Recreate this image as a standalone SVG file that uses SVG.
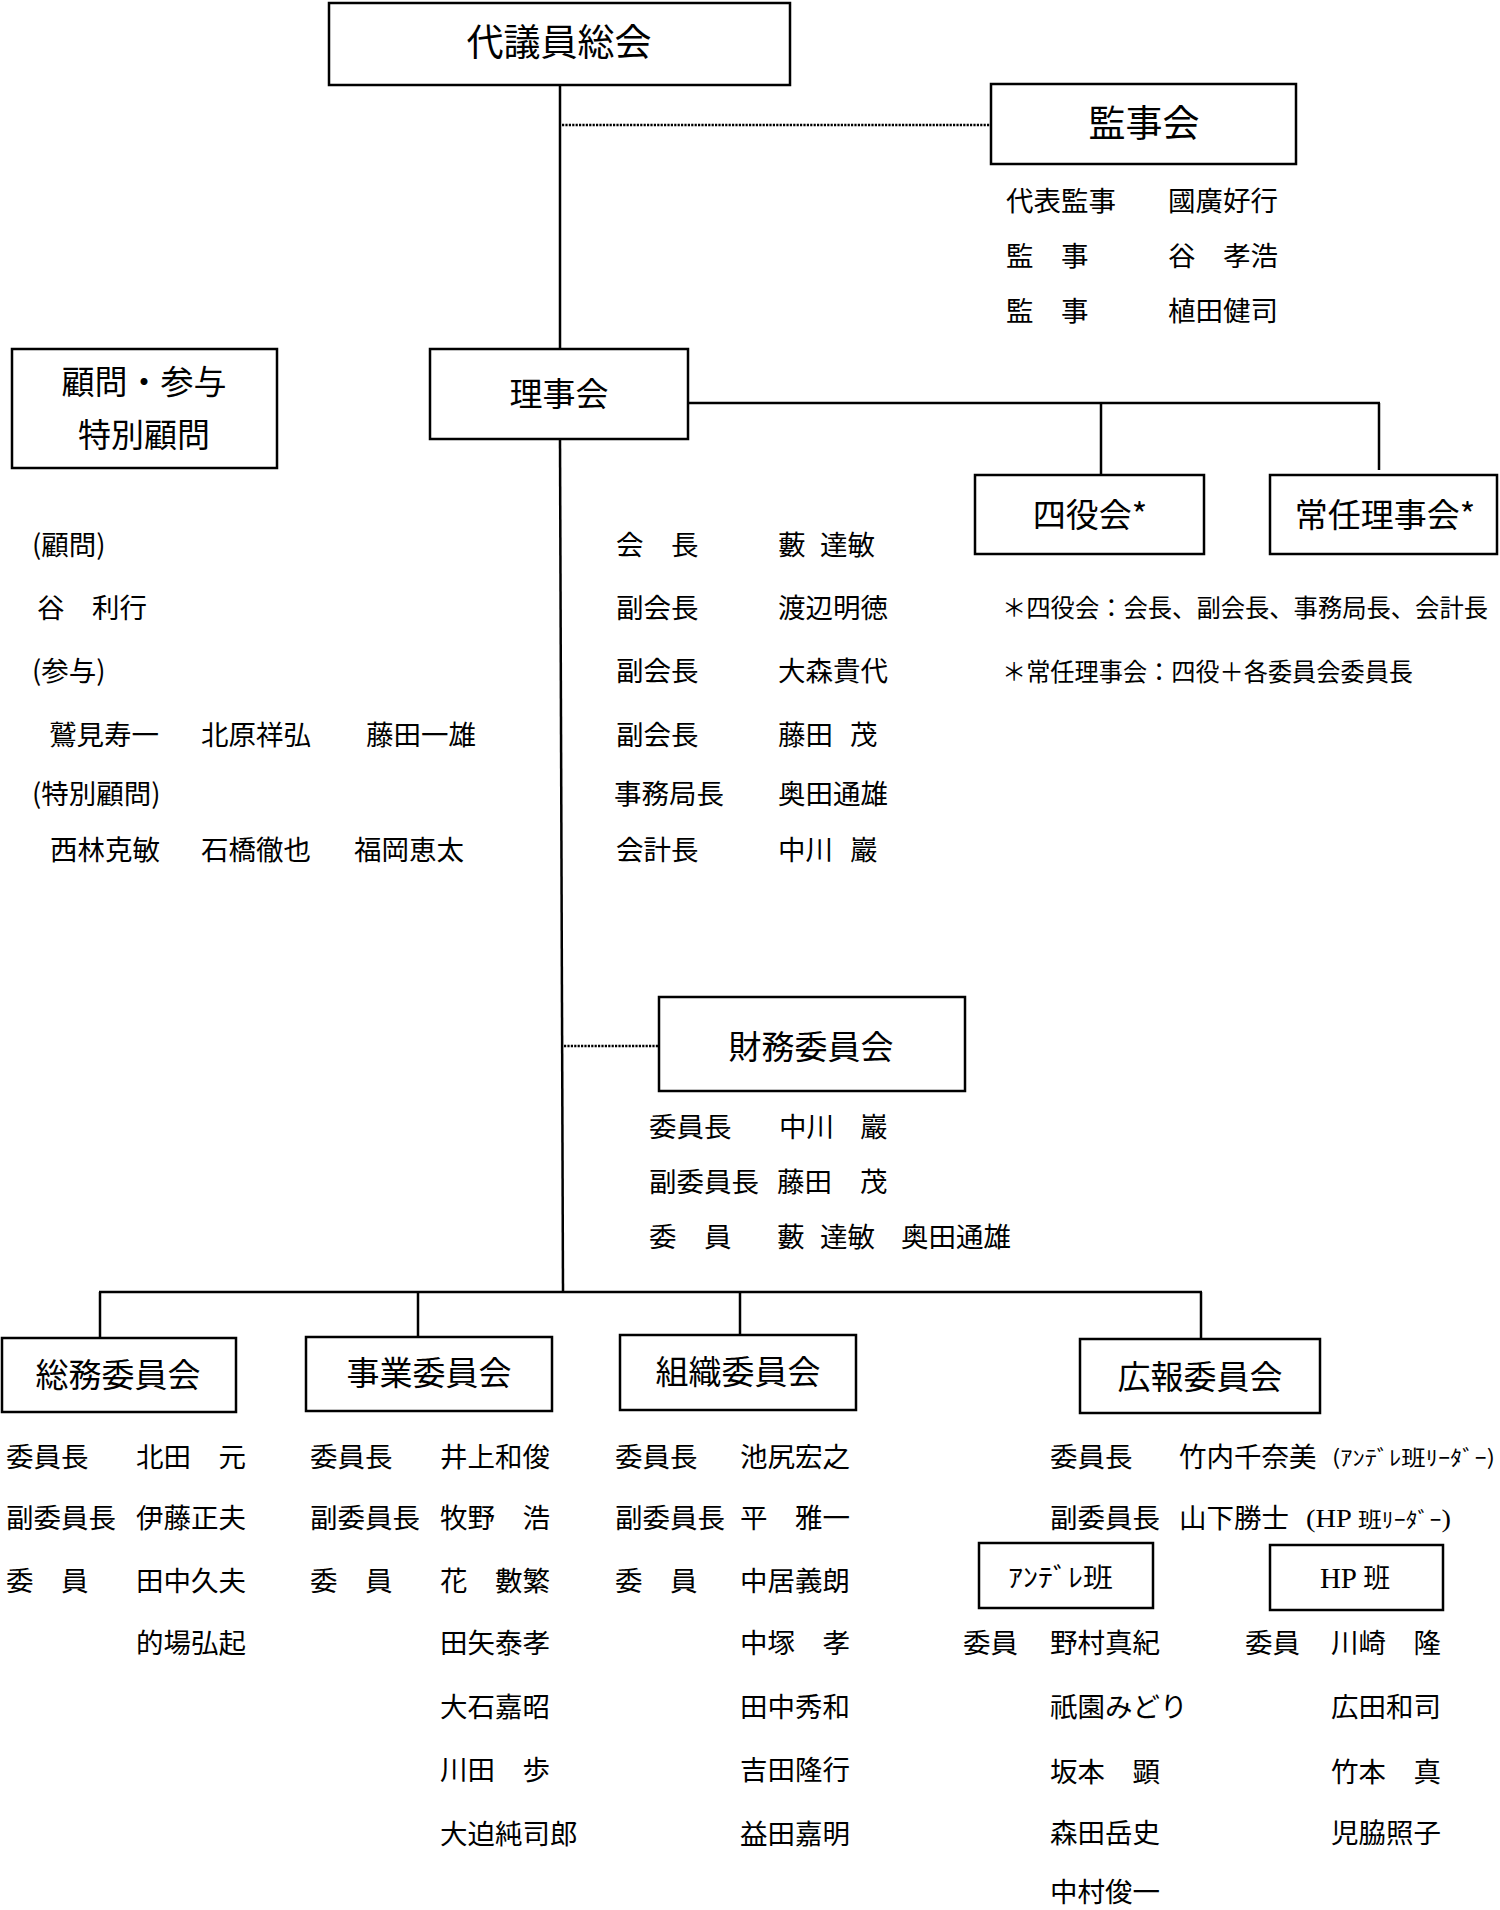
<svg xmlns="http://www.w3.org/2000/svg" width="1500" height="1910" viewBox="0 0 1500 1910">
<style>
.box{fill:#fff;stroke:#000;stroke-width:2.5}
.ln{stroke:#000;stroke-width:2.5;fill:none}
.dot{stroke:#000;stroke-width:2.6;stroke-dasharray:2.2 1.2;fill:none}
text{font-family:"Noto Sans CJK JP","Noto Sans CJK SC",sans-serif;fill:#000}
.h37{font-size:37px;text-anchor:middle}
.h33{font-size:33px;text-anchor:middle}
.m{font-size:27.5px}
.n{font-size:24.5px}
.s{font-size:21px}
.ser{font-family:"Liberation Serif","Noto Sans CJK JP",serif}
</style>
<rect width="1500" height="1910" fill="#fff"/>

<g id="connectors">
  <line class="ln" x1="560" y1="85" x2="560" y2="348"/>
  <line class="ln" x1="560" y1="439" x2="563" y2="1292"/>
  <line class="dot" x1="562" y1="125" x2="991" y2="125"/>
  <line class="ln" x1="688" y1="403" x2="1380" y2="403"/>
  <line class="ln" x1="1101" y1="403" x2="1101" y2="475"/>
  <line class="ln" x1="1379" y1="403" x2="1379" y2="470"/>
  <line class="dot" x1="564" y1="1046" x2="659" y2="1046"/>
  <line class="ln" x1="99" y1="1292" x2="1202" y2="1292"/>
  <line class="ln" x1="100" y1="1292" x2="100" y2="1338"/>
  <line class="ln" x1="418" y1="1293" x2="418" y2="1337"/>
  <line class="ln" x1="740" y1="1292" x2="740" y2="1335"/>
  <line class="ln" x1="1201" y1="1292" x2="1201" y2="1339"/>
</g>

<g id="daigiin-sokai">
  <rect class="box" x="329" y="3" width="461" height="82"/>
  <text class="h37" x="559" y="56">代議員総会</text>
</g>

<g id="kanjikai">
  <rect class="box" x="991" y="84" width="305" height="80"/>
  <text class="h37" x="1144" y="137">監事会</text>
</g>
<g id="kanjikai-members">
  <text class="m" x="1006" y="211">代表監事</text>
  <text class="m" x="1168" y="211">國廣好行</text>
  <text class="m" x="1006" y="266">監　事</text>
  <text class="m" x="1168" y="266">谷　孝浩</text>
  <text class="m" x="1006" y="321">監　事</text>
  <text class="m" x="1168" y="321">植田健司</text>
</g>

<g id="komon-sanyo">
  <rect class="box" x="12" y="349" width="265" height="119"/>
  <text class="h33" x="144" y="394">顧問・参与</text>
  <text class="h33" x="144" y="447">特別顧問</text>
</g>
<g id="komon-members">
  <text class="m" x="32" y="555">(顧問)</text>
  <text class="m" x="37" y="618">谷　利行</text>
  <text class="m" x="32" y="681">(参与)</text>
  <text class="m" x="49" y="745">鷲見寿一</text>
  <text class="m" x="201" y="745">北原祥弘</text>
  <text class="m" x="366" y="745">藤田一雄</text>
  <text class="m" x="32" y="804">(特別顧問)</text>
  <text class="m" x="50" y="860">西林克敏</text>
  <text class="m" x="201" y="860">石橋徹也</text>
  <text class="m" x="354" y="860">福岡恵太</text>
</g>

<g id="rijikai">
  <rect class="box" x="430" y="349" width="258" height="90"/>
  <text class="h33" x="559" y="406">理事会</text>
</g>
<g id="rijikai-members">
  <text class="m" x="616" y="555">会　長</text>
  <text class="m" y="555"><tspan x="778">藪</tspan><tspan x="820">達敏</tspan></text>
  <text class="m" x="616" y="618">副会長</text>
  <text class="m" x="778" y="618">渡辺明徳</text>
  <text class="m" x="616" y="681">副会長</text>
  <text class="m" x="778" y="681">大森貴代</text>
  <text class="m" x="616" y="745">副会長</text>
  <text class="m" y="745"><tspan x="778">藤田</tspan><tspan x="850">茂</tspan></text>
  <text class="m" x="614" y="804">事務局長</text>
  <text class="m" x="778" y="804">奥田通雄</text>
  <text class="m" x="616" y="860">会計長</text>
  <text class="m" y="860"><tspan x="778">中川</tspan><tspan x="850">巖</tspan></text>
</g>

<g id="yonyakukai">
  <rect class="box" x="975" y="475" width="229" height="79"/>
  <text class="h33" x="1090" y="527">四役会*</text>
</g>
<g id="jonin-rijikai">
  <rect class="box" x="1270" y="475" width="227" height="79"/>
  <text class="h33" x="1385" y="527">常任理事会*</text>
</g>
<g id="notes">
  <text class="n" x="1002" y="617" textLength="486" lengthAdjust="spacingAndGlyphs">＊四役会：会長、副会長、事務局長、会計長</text>
  <text class="n" x="1002" y="681" textLength="411" lengthAdjust="spacingAndGlyphs">＊常任理事会：四役＋各委員会委員長</text>
</g>

<g id="zaimu-iinkai">
  <rect class="box" x="659" y="997" width="306" height="94"/>
  <text class="h33" x="811" y="1059">財務委員会</text>
</g>
<g id="zaimu-members">
  <text class="m" x="649" y="1137">委員長</text>
  <text class="m" y="1137"><tspan x="779">中川</tspan><tspan x="860">巖</tspan></text>
  <text class="m" x="649" y="1192">副委員長</text>
  <text class="m" y="1192"><tspan x="777">藤田</tspan><tspan x="860">茂</tspan></text>
  <text class="m" x="649" y="1247">委　員</text>
  <text class="m" y="1247"><tspan x="777">藪</tspan><tspan x="820">達敏</tspan><tspan x="901">奥田通雄</tspan></text>
</g>

<g id="somu-iinkai">
  <rect class="box" x="2" y="1338" width="234" height="74"/>
  <text class="h33" x="118" y="1387">総務委員会</text>
</g>
<g id="somu-members">
  <text class="m" x="6" y="1467">委員長</text>
  <text class="m" x="136" y="1467">北田　元</text>
  <text class="m" x="6" y="1528">副委員長</text>
  <text class="m" x="136" y="1528">伊藤正夫</text>
  <text class="m" x="6" y="1591">委　員</text>
  <text class="m" x="136" y="1591">田中久夫</text>
  <text class="m" x="136" y="1653">的場弘起</text>
</g>

<g id="jigyo-iinkai">
  <rect class="box" x="306" y="1337" width="246" height="74"/>
  <text class="h33" x="429" y="1385">事業委員会</text>
</g>
<g id="jigyo-members">
  <text class="m" x="310" y="1467">委員長</text>
  <text class="m" x="440" y="1467">井上和俊</text>
  <text class="m" x="310" y="1528">副委員長</text>
  <text class="m" x="440" y="1528">牧野　浩</text>
  <text class="m" x="310" y="1591">委　員</text>
  <text class="m" x="440" y="1591">花　數繁</text>
  <text class="m" x="440" y="1653">田矢泰孝</text>
  <text class="m" x="440" y="1717">大石嘉昭</text>
  <text class="m" x="440" y="1780">川田　歩</text>
  <text class="m" x="440" y="1844">大迫純司郎</text>
</g>

<g id="soshiki-iinkai">
  <rect class="box" x="620" y="1335" width="236" height="75"/>
  <text class="h33" x="738" y="1384">組織委員会</text>
</g>
<g id="soshiki-members">
  <text class="m" x="615" y="1467">委員長</text>
  <text class="m" x="740" y="1467">池尻宏之</text>
  <text class="m" x="615" y="1528">副委員長</text>
  <text class="m" x="740" y="1528">平　雅一</text>
  <text class="m" x="615" y="1591">委　員</text>
  <text class="m" x="740" y="1591">中居義朗</text>
  <text class="m" x="740" y="1653">中塚　孝</text>
  <text class="m" x="740" y="1717">田中秀和</text>
  <text class="m" x="740" y="1780">吉田隆行</text>
  <text class="m" x="740" y="1844">益田嘉明</text>
</g>

<g id="koho-iinkai">
  <rect class="box" x="1080" y="1339" width="240" height="74"/>
  <text class="h33" x="1200" y="1389">広報委員会</text>
</g>
<g id="koho-members">
  <text class="m" x="1050" y="1467">委員長</text>
  <text class="m" x="1179" y="1467">竹内千奈美</text>
  <text class="s" x="1332" y="1465" textLength="163" lengthAdjust="spacingAndGlyphs">(ｱﾝﾃﾞﾚ班ﾘｰﾀﾞｰ)</text>
  <text class="m" x="1050" y="1528">副委員長</text>
  <text class="m" x="1179" y="1528">山下勝士</text>
  <text class="s" x="1306" y="1527" textLength="145" lengthAdjust="spacingAndGlyphs"><tspan class="ser" style="font-size:25px">(HP </tspan>班ﾘｰﾀﾞｰ<tspan class="ser" style="font-size:25px">)</tspan></text>
</g>

<g id="andere-han">
  <rect class="box" x="979" y="1543" width="174" height="65"/>
  <text x="1008" y="1587" style="font-size:26px" textLength="105" lengthAdjust="spacingAndGlyphs">ｱﾝﾃﾞﾚ班</text>
</g>
<g id="andere-members">
  <text class="m" x="963" y="1653">委員</text>
  <text class="m" x="1050" y="1653">野村真紀</text>
  <text class="m" x="1050" y="1717">祇園みどり</text>
  <text class="m" x="1050" y="1782">坂本　顕</text>
  <text class="m" x="1050" y="1843">森田岳史</text>
  <text class="m" x="1050" y="1902">中村俊一</text>
</g>

<g id="hp-han">
  <rect class="box" x="1270" y="1545" width="173" height="65"/>
  <text x="1355" y="1588" style="font-size:27px;text-anchor:middle"><tspan class="ser" style="font-size:29px">HP </tspan>班</text>
</g>
<g id="hp-members">
  <text class="m" x="1245" y="1653">委員</text>
  <text class="m" x="1331" y="1653">川崎　隆</text>
  <text class="m" x="1331" y="1717">広田和司</text>
  <text class="m" x="1331" y="1782">竹本　真</text>
  <text class="m" x="1331" y="1843">児脇照子</text>
</g>
</svg>
